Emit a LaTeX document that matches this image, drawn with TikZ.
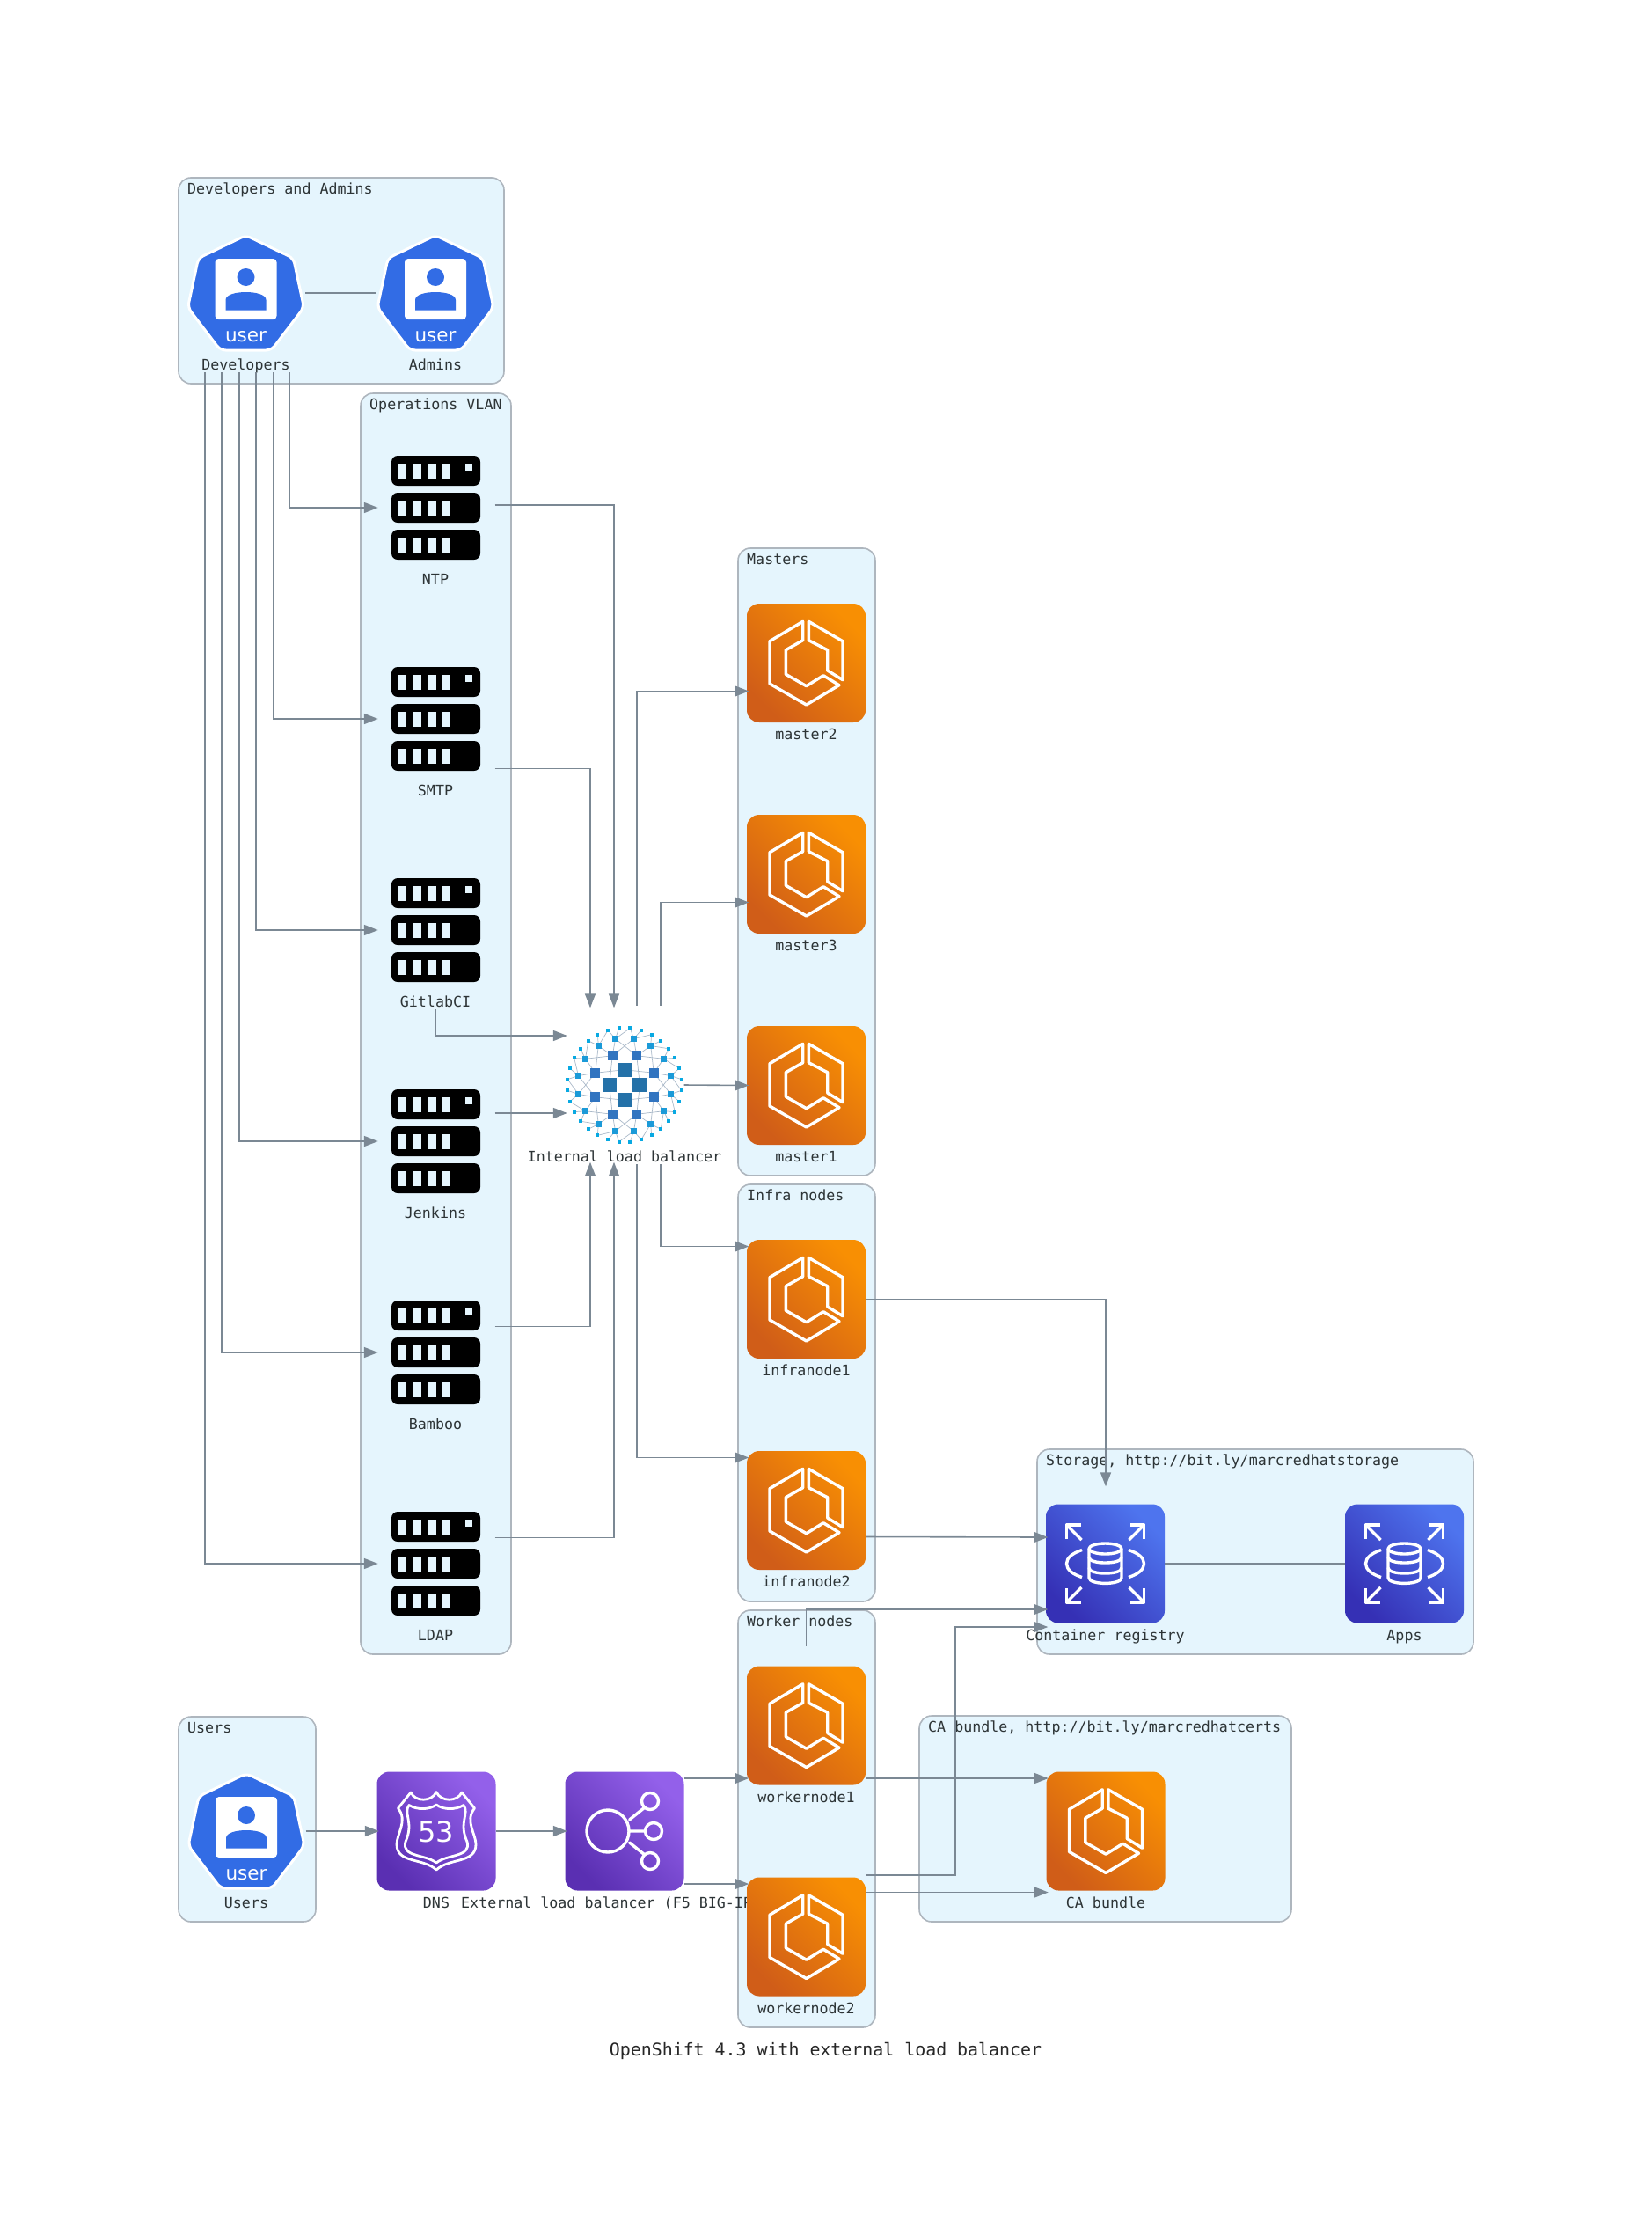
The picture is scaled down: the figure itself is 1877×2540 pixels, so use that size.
\documentclass[tikz,border=0pt]{standalone}
\usepackage{fontspec}
\usetikzlibrary{arrows.meta}
\newfontfamily\monolabel{DejaVu Sans Mono}
\newfontfamily\iconword{DejaVu Sans}
\definecolor{groupfill}{HTML}{E5F5FD}
\definecolor{groupline}{HTML}{AEB6BE}
\definecolor{edgeline}{HTML}{7B8894}
\definecolor{labelink}{HTML}{2D3436}
\tikzset{
	iconstroke/.style={draw=white, line width=3.4pt, line join=round, line cap=round},
	pics/ecsicon/.style={code={
		\shade[bottom color=ecslow, top color=ecshigh, shading angle=-45, rounded corners=14pt] (-67.5,-67.5) rectangle (67.5,67.5);
		\draw[iconstroke] (-3.8,-47.2)--(-41.5,-24.8)--(-41.5,23.5)--(0.2,47.5)--(37.5,25.2)--(19.5,14.2)--(0.2,26.2)--(-23.2,12.8)--(-23.2,-14.8)--(-3.8,-25.8)--cycle;
		\draw[iconstroke] (2.8,-47.2)--(41.5,-24.8)--(41.5,19.2)--(24.2,8.5)--(24.2,-14.8)--(2.8,-25.8)--cycle;
	}},
	pics/storageicon/.style={code={
		\shade[bottom color=storelow, top color=storehigh, shading angle=-45, rounded corners=14pt] (-67.5,-67.5) rectangle (67.5,67.5);
		\foreach \sx/\sy in {1/1, 1/-1, -1/1, -1/-1}{
			\draw[iconstroke, line cap=butt] (\sx*44,\sy*28)--(\sx*44,\sy*44)--(\sx*28,\sy*44);
			\draw[iconstroke, line cap=butt] (\sx*44,\sy*44)--(\sx*27,\sy*27);
		}
		\draw[iconstroke, line cap=butt] (-26.5,-15.5) .. controls (-37,-12) and (-44,-7) .. (-44,0) .. controls (-44,7) and (-37,12) .. (-26.5,15.5);
		\draw[iconstroke, line cap=butt] (26.5,-15.5) .. controls (37,-12) and (44,-7) .. (44,0) .. controls (44,7) and (37,12) .. (26.5,15.5);
		\draw[iconstroke] (-18.5,-17)--(-18.5,16) .. controls (-18.5,24.5) and (18.5,24.5) .. (18.5,16)--(18.5,-17);
		\draw[iconstroke] (0,-17) ellipse [x radius=18.5pt, y radius=6pt];
		\draw[iconstroke] (-18.5,-7) .. controls (-18.5,1) and (18.5,1) .. (18.5,-7);
		\draw[iconstroke] (-18.5,5) .. controls (-18.5,13) and (18.5,13) .. (18.5,5);
	}},
	pics/shieldicon/.style={code={
		\shade[bottom color=purplelow, top color=purplehigh, shading angle=-45, rounded corners=14pt] (-67.5,-67.5) rectangle (67.5,67.5);
		\draw[iconstroke, line width=2.8pt] (-29,-44) .. controls (-24,-33) and (-5,-33) .. (0,-44.5) .. controls (5,-33) and (24,-33) .. (29,-44)--(43.5,-26) .. controls (32,-12) and (45,3) .. (45,15) .. controls (45,37) and (15,30) .. (0,44) .. controls (-15,30) and (-45,37) .. (-45,15) .. controls (-45,3) and (-32,-12) .. (-43.5,-26)--cycle;
		\draw[iconstroke, line width=2.8pt] (-31,-29.5) .. controls (-22,-24) and (-8,-24) .. (0,-30) .. controls (8,-24) and (22,-24) .. (31,-29.5) .. controls (38,-20) and (25,-10) .. (35,12) .. controls (40,30) and (12,26) .. (0,36) .. controls (-12,26) and (-40,30) .. (-35,12) .. controls (-25,-10) and (-38,-20) .. (-31,-29.5)--cycle;
		\node[text=white, font=\iconword\fontsize{32}{36}\selectfont, inner sep=0pt] (number) at (0,1) {53};
	}},
	pics/balancericon/.style={code={
		\shade[bottom color=purplelow, top color=purplehigh, shading angle=-45, rounded corners=14pt] (-67.5,-67.5) rectangle (67.5,67.5);
		\draw[iconstroke] (-19,0) circle (24pt);
		\foreach \sy in {-34,0,34}{
			\draw[iconstroke] (\ifnum\sy=0 33\else 29\fi,\sy) circle (9.5pt);
		}
		\draw[iconstroke] (5.6,-13)--(23,-27) (6,0)--(23.5,0) (5.6,13)--(23,27);
	}},
	pics/usericon/.style={code={
		\draw[draw=white, line width=3pt, fill=userblue, rounded corners=6pt] (0,-65.5)--(54,-39.5)--(66,16.5)--(29,65)--(-29,65)--(-66,16.5)--(-54,-39.5)--cycle;
		\fill[white, rounded corners=4pt] (-35,-39) rectangle (35,30);
		\fill[userblue] (0,-18) circle (10pt);
		\fill[userblue] (-23,19.5)--(-23,8) .. controls (-23,2) and (-12,-1) .. (0,-1) .. controls (12,-1) and (23,2) .. (23,8)--(23,19.5)--cycle;
		\node[text=white, font=\iconword\fontsize{21.5}{24}\selectfont, inner sep=0pt] (word) at (0,49.5) {user};
	}},
	pics/servericon/.style={code={
		\foreach \by in {-42,0,42}{
			\fill[black, rounded corners=7pt] (-50,\by-17) rectangle (51,\by+17);
			\foreach \sx in {-42,-25,-8,8}{
				\fill[groupfill] (\sx,\by-8.5) rectangle (\sx+9,\by+8.5);
			}
		}
		\fill[groupfill] (34,-50) rectangle (42,-42);
	}},
	pics/meshicon/.style={code={
		\begin{scope}[meshline/.style={draw=meshgrey, line width=0.7pt}]
			\foreach \i in {0,...,3}{
				\draw[meshline] (90*\i:17.3)--(90*\i+67.5:36) (90*\i:17.3)--(90*\i-67.5:36);
			}
			\foreach \i in {0,...,7}{
				\pgfmathsetmacro{\a}{22.5+45*\i}
				\draw[meshline] (\a:36)--(\a+11.25:53.5) (\a:36)--(\a-11.25:53.5) (\a:36)--(\a+33.75:53.5) (\a:36)--(\a-33.75:53.5);
			}
			\foreach \i in {0,...,15}{
				\pgfmathsetmacro{\a}{11.25+22.5*\i}
				\draw[meshline] (\a:53.5)--(\a+5.625:65) (\a:53.5)--(\a-5.625:65) (\a:53.5)--(\a+16.875:65);
			}
		\end{scope}
		\foreach \i in {0,...,31}{
			\fill[meshd] (5.625+11.25*\i:65) ++(-2,-2) rectangle ++(4,4);
		}
		\foreach \i in {0,...,15}{
			\fill[meshc] (11.25+22.5*\i:53.5) ++(-3.7,-3.7) rectangle ++(7.4,7.4);
		}
		\foreach \i in {0,...,7}{
			\fill[meshb] (22.5+45*\i:36) ++(-5.5,-5.5) rectangle ++(11,11);
		}
		\foreach \i in {0,...,3}{
			\fill[mesha] (90*\i:17.3) ++(-8,-8) rectangle ++(16,16);
		}
	}},
}
\definecolor{ecslow}{HTML}{D05D18}
\definecolor{ecshigh}{HTML}{F88F03}
\definecolor{storelow}{HTML}{3530B5}
\definecolor{storehigh}{HTML}{4E74EE}
\definecolor{purplelow}{HTML}{5A2FB2}
\definecolor{purplehigh}{HTML}{9360EA}
\definecolor{userblue}{HTML}{326CE5}
\definecolor{meshgrey}{HTML}{A9B8C8}
\definecolor{mesha}{HTML}{2471A8}
\definecolor{meshb}{HTML}{3174C0}
\definecolor{meshc}{HTML}{1B9AD8}
\definecolor{meshd}{HTML}{08A9E2}
\begin{document}
\begin{tikzpicture}[x=1pt, y=-1pt, >={Triangle[length=16pt, width=12pt]},
	font=\monolabel\fontsize{16.65}{20}\selectfont,
	groupbox/.style={draw=groupline, fill=groupfill, line width=1.6pt, rounded corners=14pt},
	grouptitle/.style={text=labelink, inner sep=0pt, anchor=base west},
	iconbox/.style={minimum width=135pt, minimum height=180pt, inner sep=0pt},
	nodetext/.style={text=labelink, inner sep=0pt, anchor=base},
	edge/.style={draw=edgeline, fill=none, line width=1.6pt},
	tipedge/.style={edge, ->, shorten >=-2.5pt},
	]
	\useasboundingbox (0,0) rectangle (1877,2540);
	% clusters
	\foreach \nm/\txt/\xa/\ya/\xb/\yb in {devgroup/Developers and Admins/203/202/573/436, opsgroup/Operations VLAN/410/447/581/1880, mastergroup/Masters/839/623/995/1336, infragroup/Infra nodes/839/1346/995/1820, workergroup/Worker nodes/839/1830/995/2304, storegroup/{Storage, http://bit.ly/marcredhatstorage}/1179/1647/1675/1880, cagroup/{CA bundle, http://bit.ly/marcredhatcerts}/1045/1950/1468/2184, usergroup/Users/203/1951/359/2184}{
		\draw[groupbox] (\xa,\ya) rectangle (\xb,\yb);
		\node[grouptitle] (\nm) at (\xa+10,\ya+18.5) {\txt};
	}
	% nodes, the long label has to stay under the worker icons
	\node[iconbox] (elb) at (710,2081) {};
	\pic (elb-icon) at (elb) {balancericon};
	\node[nodetext, anchor=base west] (elb-text) at (524,2168) {External load balancer (F5 BIG-IP)};
	\node[iconbox] (dns) at (496,2081) {};
	\pic (dns-icon) at (dns) {shieldicon};
	\node[nodetext] (dns-text) at (496,2168) {DNS};
	\foreach \nm/\txt/\px/\py in {developers/Developers/279.5/333, admins/Admins/495/333, users/Users/280/2081}{
		\node[iconbox] (\nm) at (\px,\py) {};
		\pic (\nm-icon) at (\nm) {usericon};
		\node[nodetext] (\nm-text) at (\px,\py+87) {\txt};
	}
	\foreach \nm/\txt/\py in {ntp/NTP/577, smtp/SMTP/817, gitlabci/GitlabCI/1057, jenkins/Jenkins/1297, bamboo/Bamboo/1537, ldap/LDAP/1777}{
		\node[iconbox] (\nm) at (495,\py) {};
		\pic (\nm-icon) at (\nm) {servericon};
		\node[nodetext] (\nm-text) at (495,\py+87) {\txt};
	}
	\node[iconbox] (ilb) at (710,1233) {};
	\pic (ilb-icon) at (ilb) {meshicon};
	\node[nodetext] (ilb-text) at (710,1320) {Internal load balancer};
	\foreach \nm/\txt/\px/\py in {master2/master2/916.5/753.5, master3/master3/916.5/993.5, master1/master1/916.5/1233.5, infranode1/infranode1/916.5/1476.5, infranode2/infranode2/916.5/1716.5, workernode1/workernode1/916.5/1961, workernode2/workernode2/916.5/2201, cabundle/CA bundle/1257/2081}{
		\node[iconbox] (\nm) at (\px,\py) {};
		\pic (\nm-icon) at (\nm) {ecsicon};
		\node[nodetext] (\nm-text) at (\px,\py+87) {\txt};
	}
	\foreach \nm/\txt/\px in {registry/Container registry/1256.5, apps/Apps/1596.5}{
		\node[iconbox] (\nm) at (\px,1777) {};
		\pic (\nm-icon) at (\nm) {storageicon};
		\node[nodetext] (\nm-text) at (\px,1864) {\txt};
	}
	\node[text=black!85, inner sep=0pt, anchor=base, font=\monolabel\fontsize{19.9}{24}\selectfont] (caption) at (938.5,2336) {OpenShift 4.3 with external load balancer};
	% connectors
	\draw[edge] (developers.east)--(admins.west);
	\draw[edge] (registry.east)--(apps.west);
	\foreach \x/\t in {49.5/ntp, 31.5/smtp, 11.5/gitlabci, -7.5/jenkins, -27.5/bamboo, -46.5/ldap}{
		\draw[tipedge] ([xshift=\x pt]developers.south) |- (\t.west);
	}
	\draw[tipedge] ([yshift=3pt]ntp.east) -| ([xshift=-12pt]ilb.north);
	\draw[tipedge] ([yshift=-56.5pt]smtp.east) -| ([xshift=-39pt]ilb.north);
	\draw[tipedge] (gitlabci.south) |- ([yshift=56pt]ilb.west);
	\draw[tipedge] ([yshift=32pt]jenkins.east)--([yshift=-32pt]ilb.west);
	\draw[tipedge] ([yshift=29.5pt]bamboo.east) -| ([xshift=-39pt]ilb.south);
	\draw[tipedge] ([yshift=29.5pt]ldap.east) -| ([xshift=-12pt]ilb.south);
	\draw[tipedge] ([xshift=14pt]ilb.north) |- ([yshift=-32pt]master2.west);
	\draw[tipedge] ([xshift=41pt]ilb.north) |- ([yshift=-32pt]master3.west);
	\draw[tipedge] (ilb.east)--(master1.west);
	\draw[tipedge] ([xshift=41pt]ilb.south) |- ([yshift=60pt]infranode1.west);
	\draw[tipedge] ([xshift=14pt]ilb.south) |- ([yshift=60pt]infranode2.west);
	\draw[tipedge] (infranode1.east) -| ([xshift=0.5pt]registry.north);
	\draw[tipedge] ([yshift=-30pt]infranode2.east)--([yshift=30pt]registry.west);
	\draw[tipedge] (workernode1.north) |- ([yshift=-52pt]registry.west);
	\draw[tipedge] ([yshift=70pt]workernode2.east)-- ++(102,0) |- ([yshift=-72pt]registry.west);
	\draw[tipedge] ([yshift=-60pt]workernode1.east)--([yshift=60pt]cabundle.west);
	\draw[tipedge] ([yshift=50.5pt]workernode2.east)--([yshift=-69.5pt]cabundle.west);
	\draw[tipedge] (users.east)--(dns.west);
	\draw[tipedge] (dns.east)--(elb.west);
	\draw[tipedge] ([yshift=60pt]elb.east)--([yshift=-60pt]workernode1.west);
	\draw[tipedge] ([yshift=-60pt]elb.east)--([yshift=60pt]workernode2.west);
\end{tikzpicture}
\end{document}
